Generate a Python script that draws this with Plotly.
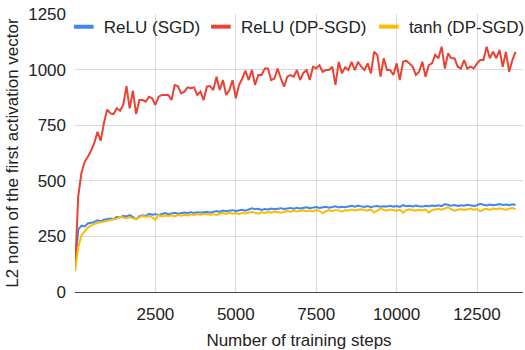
import plotly.graph_objects as go

steps = list(range(0, 13800, 100))

relu_sgd = [
    100, 280, 298, 295, 308, 310, 315, 322, 318, 325,
    328, 330, 327, 338, 335, 343, 340, 346, 338, 327,
    340, 345, 342, 351, 347, 350, 346, 352, 355, 350,
    353, 356, 352, 354, 357, 355, 358, 355, 359, 356,
    358, 361, 357, 362, 364, 360, 366, 363, 365, 368,
    364, 367, 370, 366, 371, 376, 372, 374, 369, 373,
    371, 375, 372, 374, 377, 373, 375, 378, 374, 379,
    376, 378, 381, 377, 380, 382, 378, 381, 383, 379,
    382, 385, 380, 383, 381, 384, 388, 384, 389, 385,
    382, 386, 381, 385, 387, 383, 386, 384, 388, 384,
    387, 383, 391, 386, 388, 385, 389, 386, 384, 388,
    386, 389, 387, 390, 386, 395, 390, 388, 391, 387,
    390, 388, 392, 391, 387, 390, 397, 392, 389, 393,
    390, 392, 395, 391, 393, 390, 394, 391,
]

relu_dpsgd = [
    95, 430, 535, 585, 608, 635, 670, 720, 680, 760,
    820, 803, 800, 826, 815, 841, 926, 826, 905, 800,
    863, 863, 856, 878, 871, 841, 878, 886, 886, 886,
    863, 931, 926, 893, 901, 920, 916, 920, 886, 901,
    863, 923, 926, 908, 968, 908, 953, 886, 908, 953,
    871, 931, 960, 995, 953, 998, 931, 976, 976, 1005,
    1005, 953, 960, 1005, 960, 923, 968, 975, 968, 998,
    953, 985, 998, 953, 1013, 1005, 1020, 990, 998, 998,
    1013, 931, 1035, 983, 1010, 998, 1035, 998, 1035, 1013,
    998, 1028, 983, 1080, 1066, 968, 1051, 998, 998, 976,
    1028, 953, 1035, 1040, 1028, 1013, 976, 990, 1035, 968,
    1020, 1028, 1066, 1051, 1103, 1005, 1073, 1051, 1051, 1013,
    1005, 1043, 1005, 1013, 1005, 1028, 1043, 1043, 1103, 1051,
    1080, 1051, 1088, 1013, 1080, 990, 1043, 1080,
]

tanh_dpsgd = [
    95, 200, 255, 272, 290, 298, 306, 310, 313, 316,
    319, 322, 327, 330, 338, 335, 332, 336, 330, 327,
    336, 342, 338, 341, 336, 324, 346, 340, 344, 342,
    345, 340, 346, 343, 347, 344, 349, 346, 351, 348,
    352, 349, 347, 350, 346, 352, 355, 351, 357, 352,
    355, 350, 356, 353, 358, 361, 356, 352, 358, 355,
    360, 357, 362, 358, 356, 361, 364, 360, 366, 362,
    364, 367, 363, 366, 362, 368, 365, 354, 363, 367,
    364, 369, 366, 361, 368, 366, 371, 367, 370, 372,
    369, 366, 371, 357, 366, 376, 369, 366, 371, 368,
    365, 370, 357, 368, 372, 369, 366, 370, 367, 371,
    357, 368, 371, 374, 370, 376, 381, 372, 366, 370,
    373, 369, 372, 375, 370, 373, 363, 371, 374, 369,
    375, 372, 376, 373, 370, 375, 378, 372,
]

x_ticks = [2500, 5000, 7500, 10000, 12500]
y_ticks = [0, 250, 500, 750, 1000, 1250]

series = [
    ("ReLU (SGD)", relu_sgd, "#4285F4", "legend", -0.025),
    ("ReLU (DP-SGD)", relu_dpsgd, "#EA4335", "legend2", 0.281),
    ("tanh (DP-SGD)", tanh_dpsgd, "#FBBC04", "legend3", 0.656),
]

FONT = "Liberation Sans, Arial, sans-serif"
TXT = "#222222"

fig = go.Figure()
for name, vals, color, _, _ in series:
    fig.add_trace(go.Scatter(
        x=steps, y=vals, mode="lines", name=name,
        line=dict(color=color, width=2), showlegend=False,
    ))
legends = {}
for name, vals, color, leg, lx in series:
    fig.add_trace(go.Scatter(
        x=[None], y=[None], mode="markers", name=name, legend=leg,
        marker=dict(symbol="line-ew", size=14, color=color,
                    line=dict(color=color, width=4)),
    ))
    legends[leg] = dict(
        orientation="h", x=lx, xanchor="left",
        yref="container", y=0.974, yanchor="top",
        bgcolor="rgba(0,0,0,0)", font=dict(family=FONT, size=17, color=TXT),
    )

fig.update_layout(
    width=525, height=350,
    margin=dict(l=75, r=2, t=14, b=58, autoexpand=False),
    paper_bgcolor="white", plot_bgcolor="white",
    font=dict(family=FONT, size=17, color=TXT),
    xaxis=dict(
        range=[0, 13930], tickvals=x_ticks, ticktext=[str(v) for v in x_ticks],
        showgrid=True, gridcolor="#d9d9d9", gridwidth=1, zeroline=False,
        showline=False, ticks="", ticklabelstandoff=10,
        tickfont=dict(family=FONT, size=17, color=TXT),
        title=dict(text="Number of training steps", standoff=14,
                   font=dict(family=FONT, size=17, color=TXT)),
    ),
    yaxis=dict(
        range=[0, 1250], tickvals=y_ticks, ticktext=[str(v) for v in y_ticks],
        showgrid=True, gridcolor="#d9d9d9", gridwidth=1,
        zeroline=True, zerolinecolor="#444444", zerolinewidth=1,
        showline=False, ticks="", ticklabelstandoff=8,
        tickfont=dict(family=FONT, size=17, color=TXT),
        title=dict(text="L2 norm of the first activation vector", standoff=5,
                   font=dict(family=FONT, size=17, color=TXT)),
    ),
    **legends,
)

fig.write_html("out.html")
